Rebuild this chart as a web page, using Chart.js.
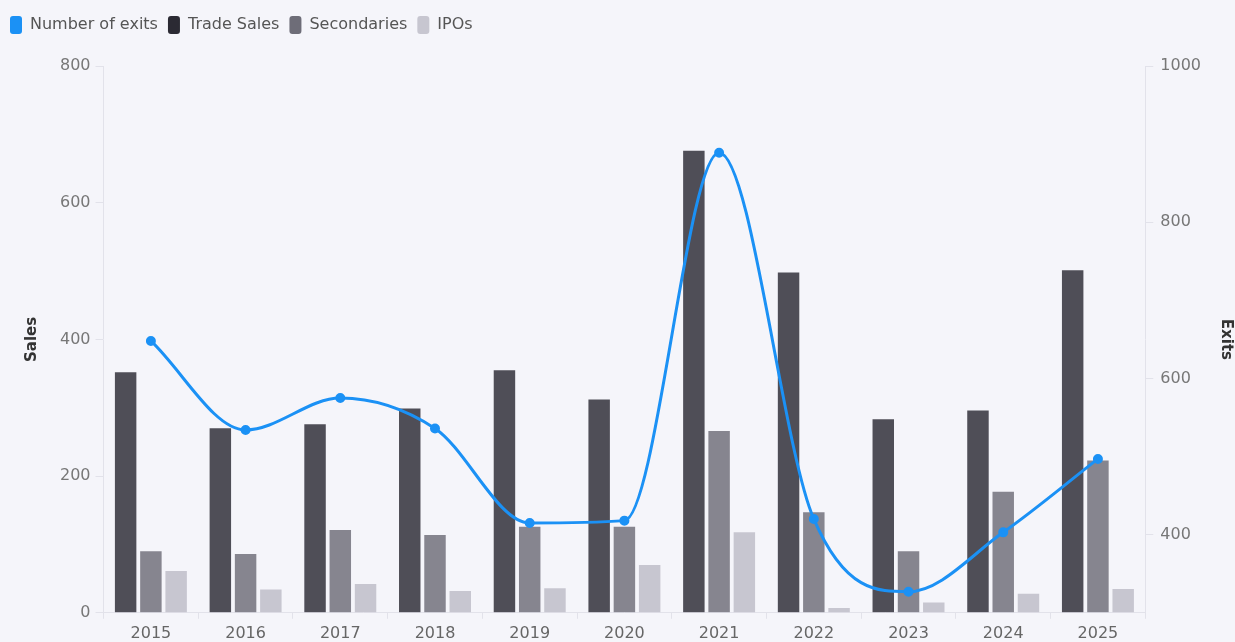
<!DOCTYPE html>
<html>
<head>
<meta charset="utf-8">
<script src="https://cdn.jsdelivr.net/npm/chart.js@4/dist/chart.umd.min.js"></script>
<style>
  html, body { margin: 0; padding: 0; background: #f5f5fa; }
  #wrap { width: 1235px; height: 642px; position: relative; }
</style>
</head>
<body>
<div id="wrap"><canvas id="chart0"></canvas></div>
<script>
var years = ["2015", "2016", "2017", "2018", "2019", "2020", "2021", "2022", "2023", "2024", "2025"];
var exits = [648, 534, 575, 536, 415, 418, 889, 420, 327, 403, 497];
var tradeSales = [352, 270, 276, 299, 355, 312, 676, 498, 283, 296, 501];
var secondaries = [90, 86, 121, 114, 126, 126, 266, 147, 90, 177, 223];
var ipos = [61, 34, 42, 32, 36, 70, 118, 7, 15, 28, 35];

var salesTicks = [0, 200, 400, 600, 800];
var exitTicks = [400, 600, 800, 1000];

// push the plot down a bit below the legend
var legendSpacer = {
  id: "legendSpacer",
  beforeInit: function(chart) {
    var origFit = chart.legend.fit;
    chart.legend.fit = function() {
      origFit.bind(chart.legend)();
      this.height += 22;
    };
  }
};

document.addEventListener("DOMContentLoaded", function() {
  var ctx = document.getElementById("chart0").getContext("2d");

  var tickFont = { family: "DejaVu Sans", size: 16 };
  var titleFont = { family: "DejaVu Sans", size: 15, weight: "bold" };

  var chart = new Chart(ctx, {
    type: "bar",
    plugins: [legendSpacer],
    data: {
      labels: years,
      datasets: [
        {
          type: "line",
          label: "Number of exits",
          data: exits,
          yAxisID: "y1",
          borderColor: "#1b91f5",
          backgroundColor: "#1b91f5",
          borderWidth: 3,
          pointRadius: 3.5,
          pointBackgroundColor: "#1b91f5",
          cubicInterpolationMode: "monotone",
          order: 0
        },
        {
          label: "Trade Sales",
          data: tradeSales,
          yAxisID: "y",
          backgroundColor: "#4f4e57",
          order: 1
        },
        {
          label: "Secondaries",
          data: secondaries,
          yAxisID: "y",
          backgroundColor: "#86858f",
          order: 1
        },
        {
          label: "IPOs",
          data: ipos,
          yAxisID: "y",
          backgroundColor: "#c7c6d0",
          order: 1
        }
      ]
    },
    options: {
      responsive: true,
      maintainAspectRatio: false,
      animation: false,
      categoryPercentage: 0.8,
      barPercentage: 0.85,
      layout: { padding: { left: 0, right: 0, top: 6, bottom: -6 } },
      plugins: {
        legend: {
          position: "top",
          align: "start",
          labels: {
            boxWidth: 12,
            boxHeight: 18,
            useBorderRadius: true,
            borderRadius: 3,
            padding: 10,
            color: "#555",
            font: { family: "DejaVu Sans", size: 16 },
            generateLabels: function(chart) {
              var items = Chart.defaults.plugins.legend.labels.generateLabels(chart);
              items.forEach(function(it, i) {
                var c = ["#1b91f5", "#2b2a33", "#6e6d78", "#c7c6d0"][i];
                it.fillStyle = c;
                it.strokeStyle = c;
                it.lineWidth = 0;
              });
              return items;
            }
          }
        },
        tooltip: { enabled: false }
      },
      scales: {
        x: {
          grid: { display: true, drawOnChartArea: false, drawTicks: true, tickLength: 6, color: "#e2e2ea" },
          border: { display: true, color: "#e2e2ea" },
          ticks: { color: "#666", font: tickFont, padding: 5 }
        },
        y: {
          position: "left",
          min: 0,
          max: 800,
          grid: { drawOnChartArea: false, drawTicks: true, tickLength: 8, color: "#e2e2ea" },
          border: { display: true, color: "#e2e2ea" },
          afterBuildTicks: function(scale) {
            scale.ticks = salesTicks.map(function(v) { return { value: v }; });
          },
          ticks: { color: "#777", font: tickFont, padding: 5, callback: function(v) { return String(v); } },
          title: { display: true, text: "Sales", color: "#333", font: titleFont, padding: { top: 23, bottom: 14 } }
        },
        y1: {
          position: "right",
          min: 300,
          max: 1000,
          grid: { drawOnChartArea: false, drawTicks: true, tickLength: 8, color: "#e2e2ea" },
          border: { display: true, color: "#e2e2ea" },
          afterBuildTicks: function(scale) {
            scale.ticks = exitTicks.map(function(v) { return { value: v }; });
          },
          ticks: { color: "#777", font: tickFont, padding: 7, callback: function(v) { return String(v); } },
          title: { display: true, text: "Exits", color: "#333", font: titleFont, padding: { top: 0, bottom: 9 } }
        }
      }
    }
  });
});
</script>
</body>
</html>
